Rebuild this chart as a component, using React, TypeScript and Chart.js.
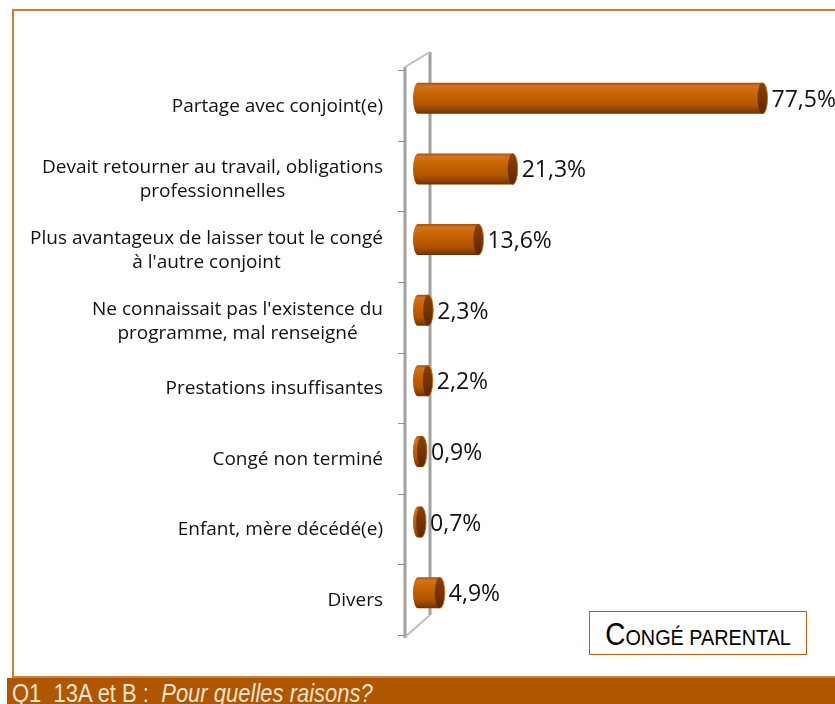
import React, { useEffect, useRef } from "react";
import { Chart, registerables } from "chart.js";

Chart.register(...registerables);

const categories: string[][] = [
  ["Partage avec conjoint(e)"],
  ["Devait retourner au travail, obligations", "professionnelles"],
  ["Plus avantageux de laisser tout le congé", "à l'autre conjoint"],
  ["Ne connaissait pas l'existence du", "programme, mal renseigné"],
  ["Prestations insuffisantes"],
  ["Congé non terminé"],
  ["Enfant, mère décédé(e)"],
  ["Divers"],
];
const values = [77.5, 21.3, 13.6, 2.3, 2.2, 0.9, 0.7, 4.9];
const valueLabels = ["77,5%", "21,3%", "13,6%", "2,3%", "2,2%", "0,9%", "0,7%", "4,9%"];

const LABEL_FONT = "19px 'Open Sans', sans-serif";
const VALUE_FONT = "23px 'Open Sans', sans-serif";
const CAP_RX = 5;

function drawCylinder(ctx: CanvasRenderingContext2D, x0: number, x1: number, yc: number, h: number) {
  const rx = CAP_RX;
  const ry = h / 2;
  const cl = x0 + rx;
  const cr = Math.max(x1 + rx, cl);
  const g = ctx.createLinearGradient(0, yc - ry, 0, yc + ry);
  g.addColorStop(0, "#a85200");
  g.addColorStop(0.1, "#d27222");
  g.addColorStop(0.35, "#c86400");
  g.addColorStop(0.7, "#b35600");
  g.addColorStop(0.9, "#8a4000");
  g.addColorStop(1, "#6a3000");
  ctx.save();
  ctx.fillStyle = g;
  ctx.beginPath();
  ctx.moveTo(cl, yc - ry);
  ctx.lineTo(cr, yc - ry);
  ctx.ellipse(cr, yc, rx, ry, 0, -Math.PI / 2, Math.PI / 2);
  ctx.lineTo(cl, yc + ry);
  ctx.ellipse(cl, yc, rx, ry, 0, Math.PI / 2, (3 * Math.PI) / 2);
  ctx.closePath();
  ctx.fill();
  const cg = ctx.createLinearGradient(0, yc - ry, 0, yc + ry);
  cg.addColorStop(0, "#8a4208");
  cg.addColorStop(0.5, "#763400");
  cg.addColorStop(1, "#5a2800");
  ctx.fillStyle = cg;
  ctx.beginPath();
  ctx.ellipse(cr, yc, rx, ry, 0, 0, Math.PI * 2);
  ctx.fill();
  ctx.strokeStyle = "rgba(210,120,40,0.8)";
  ctx.lineWidth = 1;
  ctx.beginPath();
  ctx.ellipse(cr, yc, rx, ry, 0, -Math.PI / 2, Math.PI / 2);
  ctx.stroke();
  ctx.restore();
}

const decorPlugin = {
  id: "decor",
  beforeDatasetsDraw(chart: any) {
    const ctx: CanvasRenderingContext2D = chart.ctx;
    const y = chart.scales.y;
    const area = chart.chartArea;
    const n = categories.length;
    const topB = y.getPixelForValue(-0.5);
    const botB = y.getPixelForValue(n - 0.5);
    const fx = area.left - 8;
    const bx = area.left + 17;
    ctx.save();
    ctx.lineCap = "butt";
    ctx.strokeStyle = "#a0a0a0";
    ctx.lineWidth = 3;
    ctx.beginPath();
    ctx.moveTo(bx, topB - 11);
    ctx.lineTo(bx, botB - 13);
    ctx.stroke();
    ctx.beginPath();
    ctx.moveTo(fx, topB + 4);
    ctx.lineTo(fx, botB + 10);
    ctx.stroke();
    ctx.strokeStyle = "#bdbdbd";
    ctx.lineWidth = 2;
    ctx.beginPath();
    ctx.moveTo(fx, topB + 4);
    ctx.lineTo(bx, topB - 11);
    ctx.moveTo(fx, botB + 9);
    ctx.lineTo(bx, botB - 13);
    ctx.stroke();
    ctx.strokeStyle = "#909090";
    ctx.lineWidth = 1;
    ctx.beginPath();
    for (let i = 0; i <= n; i++) {
      const py = Math.round(y.getPixelForValue(i - 0.5) + 7) + 0.5;
      ctx.moveTo(fx - 7, py);
      ctx.lineTo(fx, py);
    }
    ctx.stroke();
    ctx.restore();
  },
  afterDatasetsDraw(chart: any) {
    const ctx: CanvasRenderingContext2D = chart.ctx;
    const meta = chart.getDatasetMeta(0);
    const area = chart.chartArea;
    meta.data.forEach((el: any, i: number) => {
      const p = el.getProps(["x", "y", "base", "height"], true);
      drawCylinder(ctx, p.base, p.x, p.y, p.height);
      ctx.save();
      ctx.font = VALUE_FONT;
      ctx.fillStyle = "#111";
      ctx.textAlign = "left";
      ctx.textBaseline = "middle";
      ctx.fillText(valueLabels[i], p.x + 2 * CAP_RX + 4, p.y + 2);
      ctx.restore();
    });
    const y = chart.scales.y;
    const right = area.left - 30;
    ctx.save();
    ctx.font = LABEL_FONT;
    ctx.fillStyle = "#111";
    ctx.textAlign = "center";
    ctx.textBaseline = "middle";
    categories.forEach((lines, i) => {
      const yc = y.getPixelForValue(i);
      const bw = Math.max(...lines.map((l) => ctx.measureText(l).width));
      const cx = right - bw / 2;
      const lh = 24;
      const center = lines.length > 1 ? yc + 11 : yc + 8;
      const start = center - ((lines.length - 1) * lh) / 2;
      lines.forEach((l, k) => ctx.fillText(l, cx, start + k * lh));
    });
    ctx.restore();
  },
};

function ChartCanvas() {
  const ref = useRef<HTMLCanvasElement | null>(null);
  useEffect(() => {
    if (!ref.current) return;
    const chart = new Chart(ref.current, {
      type: "bar",
      data: {
        labels: categories.map((c) => c.join(" ")),
        datasets: [
          {
            data: values,
            backgroundColor: "rgba(0,0,0,0)",
            borderWidth: 0,
            barPercentage: 0.44,
            categoryPercentage: 1,
          },
        ],
      },
      options: {
        indexAxis: "y",
        responsive: false,
        animation: false,
        devicePixelRatio: 1,
        layout: { padding: { left: 413, right: 13, top: 63, bottom: 76 } },
        plugins: { legend: { display: false }, tooltip: { enabled: false } },
        scales: {
          x: { display: false, min: 0, max: 92 },
          y: { display: false, offset: true },
        },
      },
      plugins: [decorPlugin],
    });
    return () => chart.destroy();
  }, []);
  return (
    <canvas
      ref={ref}
      width={835}
      height={704}
      style={{ position: "absolute", left: 0, top: 0, width: 835, height: 704 }}
    />
  );
}

export default function App() {
  const sans = "'Liberation Sans', Arial, sans-serif";
  return (
    <div
      style={{
        position: "absolute",
        left: 0,
        top: 0,
        width: 835,
        height: 704,
        overflow: "hidden",
        background: "#fff",
      }}
    >
      <div
        style={{
          position: "absolute",
          left: 12,
          top: 9,
          width: 840,
          height: 669,
          border: "2px solid #C8813F",
          boxSizing: "border-box",
        }}
      />
      <ChartCanvas />
      <div
        style={{
          position: "absolute",
          left: 589,
          top: 611,
          width: 218,
          height: 44,
          border: "1.5px solid #B5601A",
          boxSizing: "border-box",
          background: "#fff",
          display: "flex",
          alignItems: "center",
          justifyContent: "center",
          fontFamily: sans,
          color: "#000",
          whiteSpace: "nowrap",
          lineHeight: 1,
        }}
      >
        <span style={{ display: "inline-block", transform: "scaleX(0.9)", paddingTop: 2 }}>
          <span style={{ fontSize: 31 }}>C</span>
          <span style={{ fontSize: 22 }}>ONGÉ PARENTAL</span>
        </span>
      </div>
      <div
        style={{
          position: "absolute",
          left: 7,
          top: 678,
          width: 840,
          height: 40,
          background: "#AE5600",
          color: "#F3E3D3",
          fontFamily: sans,
          fontSize: 25,
          lineHeight: "30px",
          paddingLeft: 5,
          whiteSpace: "pre",
          boxSizing: "border-box",
        }}
      >
        <span style={{ display: "inline-block", transform: "scaleX(0.88)", transformOrigin: "left center" }}>
          <span>Q1_13A et B :  </span>
          <span style={{ fontStyle: "italic" }}>Pour quelles raisons?</span>
        </span>
      </div>
    </div>
  );
}
